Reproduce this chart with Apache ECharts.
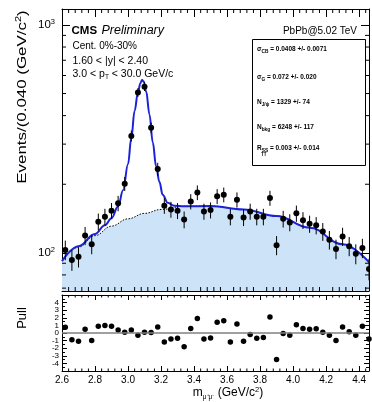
<!DOCTYPE html>
<html>
<head>
<meta charset="utf-8">
<script src="https://cdn.jsdelivr.net/npm/echarts@6.0.0/dist/echarts.min.js"></script>
<style>
html,body{margin:0;padding:0;background:#fff;}
#chart{width:372px;height:402px;}
</style>
</head>
<body>
<div id="chart"></div>
<script>
// ---------------- data ----------------
const binLow = 2.6;
const binWidth = 0.04;
const counts = [103, 93, 96, 119, 109, 137, 144, 153, 165, 201,
                326, 506, 536, 354, 233, 161, 155, 153, 140, 168,
                184, 152, 154, 177, 180, 144, 171, 143, 152, 144,
                144, 174, 108, 141, 136, 149, 139, 134, 132, 124,
                114, 104, 118, 107, 99, 105, 85];
const pulls = [0.75, -0.9, -1.1, 0.5, -1.0, 0.9, 1.0, 0.9, 0.4, 0.1,
               0.4, -0.3, 0.1, 0.05, 0.8, -1.2, -0.8, -0.7, -1.8, 0.6,
               1.9, -0.8, -0.65, 1.4, 1.6, -1.2, 1.2, -1.1, -0.2, -0.7,
               -0.6, 2.1, -3.5, -0.05, -0.3, 1.1, 0.6, 0.5, 0.55, 0.1,
               -0.3, -1.0, 0.8, 0.15, -0.3, 0.9, -0.8];
const bgMass = [2.60, 2.70, 2.80, 2.90, 3.00, 3.10, 3.20, 3.34, 3.50,
                3.70, 3.90, 4.10, 4.30, 4.46];
const bgFit  = [92, 106, 119, 131, 141, 149, 155, 160, 160.5,
                155, 145, 129, 109, 91];
const totMass = [2.60, 2.70, 2.80, 2.86, 2.90, 2.94, 2.97, 3.00, 3.02, 3.04,
                 3.06, 3.075, 3.085, 3.095, 3.11, 3.13, 3.15, 3.17, 3.19, 3.21,
                 3.24, 3.28, 3.34, 3.50, 3.70, 3.90, 4.10, 4.30, 4.46];
const totFit  = [92, 107, 121, 132, 142, 160, 188, 245, 320, 420,
                 505, 555, 574, 565, 510, 405, 305, 240, 205, 180,
                 166, 161, 160, 160.5, 155, 145, 129, 109, 91];
const xTickLabels = ['2.6', '2.8', '3.0', '3.2', '3.4', '3.6', '3.8', '4.0', '4.2', '4.4'];
const logMinorTicks = [70, 80, 90, 200, 300, 400, 500, 600, 700, 800, 900];
const pullTickLabels = ['-4', '-3', '-2', '-1', '0', '1', '2', '3', '4'];

// ---------------- layout / style ----------------
const FF = "'Liberation Sans', Arial, Helvetica, sans-serif";
const xMin = 2.6, xMax = 4.46;
const yMin = 68, yMax = 1175;
const G0 = {left: 62, top: 9, width: 307, height: 282};
const G1 = {left: 62, top: 295, width: 307, height: 76};

const points = counts.map((c, i) => [binLow + binWidth * (i + 0.5), c, Math.sqrt(c)]);
const pullPts = pulls.map((p, i) => [binLow + binWidth * (i + 0.5), p]);
const xMinor = [];
for (let k = 1; binLow + k * binWidth < xMax - 1e-9; k++) {
  if (k % 5 !== 0) xMinor.push(+(binLow + k * binWidth).toFixed(3));
}

function xLabel(v) {
  const s = v.toFixed(1);
  return (Math.abs(v - parseFloat(s)) < 1e-6 && xTickLabels.indexOf(s) >= 0) ? s : '';
}
function logLabel(v) {
  const e = Math.log10(v);
  if (Math.abs(e - Math.round(e)) > 1e-6) return '';
  return '{b|10}{s|' + Math.round(e) + '}';
}
function pullLabel(v) {
  const s = String(Math.round(v));
  return (Math.abs(v - Math.round(v)) < 1e-6 && pullTickLabels.indexOf(s) >= 0) ? s : '';
}
const black = {color: '#000', width: 1};

function xMinorRender(len) {
  return function (params, api) {
    const cs = params.coordSys;
    const p = api.coord([api.value(0), api.value(1)]);
    return {type: 'group', children: [
      {type: 'line', shape: {x1: p[0], y1: cs.y + cs.height, x2: p[0], y2: cs.y + cs.height - len}, style: {stroke: '#000', lineWidth: 1}},
      {type: 'line', shape: {x1: p[0], y1: cs.y, x2: p[0], y2: cs.y + len}, style: {stroke: '#000', lineWidth: 1}}
    ]};
  };
}
function legendText(y, main, sub, rest) {
  return {type: 'text', x: 257, y: y, z: 11,
    style: {text: '{a|' + main + '}{b|' + sub + '}{a|' + rest + '}', verticalAlign: 'middle',
      rich: {a: {fontFamily: FF, fontWeight: 'bold', fontSize: 6.5, color: '#000', lineHeight: 10},
             b: {fontFamily: FF, fontWeight: 'bold', fontSize: 4.8, color: '#000', verticalAlign: 'bottom', lineHeight: 10}}}};
}

const chart = echarts.init(document.getElementById('chart'), null, {renderer: 'canvas'});

const option = {
  backgroundColor: '#fff',
  animation: false,
  grid: [
    Object.assign({outerBoundsMode: 'none', containLabel: false}, G0),
    Object.assign({outerBoundsMode: 'none', containLabel: false}, G1)
  ],
  xAxis: [
    {gridIndex: 0, type: 'value', min: xMin, max: xMax, interval: 0.2, position: 'bottom',
     axisLine: {show: true, onZero: false, lineStyle: black}, axisTick: {show: true, inside: true, length: 8, lineStyle: black},
     axisLabel: {show: false}, splitLine: {show: false}},
    {gridIndex: 0, type: 'value', min: xMin, max: xMax, interval: 0.2, position: 'top',
     axisLine: {show: true, onZero: false, lineStyle: black}, axisTick: {show: true, inside: true, length: 8, lineStyle: black},
     axisLabel: {show: false}, splitLine: {show: false}},
    {gridIndex: 1, type: 'value', min: xMin, max: xMax, interval: 0.2, position: 'bottom',
     axisLine: {show: true, onZero: false, lineStyle: black}, axisTick: {show: true, inside: true, length: 5, lineStyle: black},
     axisLabel: {show: true, formatter: xLabel, margin: 4, color: '#000', fontFamily: FF, fontSize: 10,
                 showMinLabel: true, showMaxLabel: true}, splitLine: {show: false}},
    {gridIndex: 1, type: 'value', min: xMin, max: xMax, interval: 0.2, position: 'top',
     axisLine: {show: true, onZero: false, lineStyle: black}, axisTick: {show: true, inside: true, length: 5, lineStyle: black},
     axisLabel: {show: false}, splitLine: {show: false}}
  ],
  yAxis: [
    {gridIndex: 0, type: 'log', logBase: 10, min: yMin, max: yMax, position: 'left',
     axisLine: {show: true, onZero: false, lineStyle: black}, axisTick: {show: true, inside: true, length: 8, lineStyle: black},
     axisLabel: {show: true, formatter: logLabel, margin: 7, color: '#000',
                 rich: {b: {fontFamily: FF, fontSize: 11.5, color: '#000', lineHeight: 14},
                        s: {fontFamily: FF, fontSize: 7.5, color: '#000', verticalAlign: 'top', lineHeight: 14}}},
     splitLine: {show: false}},
    {gridIndex: 0, type: 'log', logBase: 10, min: yMin, max: yMax, position: 'right',
     axisLine: {show: true, onZero: false, lineStyle: black}, axisTick: {show: true, inside: true, length: 8, lineStyle: black},
     axisLabel: {show: false}, splitLine: {show: false}},
    {gridIndex: 1, type: 'value', min: -5, max: 5, interval: 1, position: 'left',
     axisLine: {show: true, onZero: false, lineStyle: black}, axisTick: {show: true, inside: true, length: 5, lineStyle: black},
     minorTick: {show: true, splitNumber: 2, length: 3, lineStyle: black},
     axisLabel: {show: true, formatter: pullLabel, margin: 3, color: '#000', fontFamily: FF, fontSize: 8},
     splitLine: {show: false}},
    {gridIndex: 1, type: 'value', min: -5, max: 5, interval: 1, position: 'right',
     axisLine: {show: true, onZero: false, lineStyle: black}, axisTick: {show: true, inside: true, length: 5, lineStyle: black},
     minorTick: {show: true, splitNumber: 2, length: 3, lineStyle: black},
     axisLabel: {show: false}, splitLine: {show: false}}
  ],
  series: [
    {type: 'line', name: 'bkg', xAxisIndex: 0, yAxisIndex: 0, data: bgMass.map((x, i) => [x, bgFit[i]]),
     smooth: 0.4, smoothMonotone: 'x', symbol: 'none', silent: true, z: 1,
     lineStyle: {color: '#000', width: 1, type: [1.5, 1.5]},
     areaStyle: {color: '#cde3f7', opacity: 1, origin: 'start'}},
    {type: 'line', name: 'fit', xAxisIndex: 0, yAxisIndex: 0, data: totMass.map((x, i) => [x, totFit[i]]),
     smooth: 0.4, smoothMonotone: 'x', symbol: 'none', silent: true, z: 2,
     lineStyle: {color: '#1c22d8', width: 2}},
    {type: 'custom', name: 'data', xAxisIndex: 0, yAxisIndex: 0, data: points, clip: true, z: 3,
     encode: {x: 0, y: 1},
     renderItem: function (params, api) {
       const x = api.value(0), y = api.value(1), e = api.value(2);
       const p = api.coord([x, y]);
       const hi = api.coord([x, y + e]);
       const lo = api.coord([x, y - e]);
       return {type: 'group', children: [
         {type: 'line', shape: {x1: p[0], y1: hi[1], x2: p[0], y2: lo[1]}, style: {stroke: '#000', lineWidth: 1}},
         {type: 'circle', shape: {cx: p[0], cy: p[1], r: 3}, style: {fill: '#000'}}
       ]};
     }},
    {type: 'custom', name: 'logminor', xAxisIndex: 0, yAxisIndex: 0, silent: true, z: 4,
     data: logMinorTicks.map(v => [xMin, v]), encode: {x: 0, y: 1},
     renderItem: function (params, api) {
       const cs = params.coordSys;
       const p = api.coord([xMin, api.value(1)]);
       return {type: 'group', children: [
         {type: 'line', shape: {x1: cs.x, y1: p[1], x2: cs.x + 4, y2: p[1]}, style: {stroke: '#000', lineWidth: 1}},
         {type: 'line', shape: {x1: cs.x + cs.width - 4, y1: p[1], x2: cs.x + cs.width, y2: p[1]}, style: {stroke: '#000', lineWidth: 1}}
       ]};
     }},
    {type: 'custom', name: 'xminor0', xAxisIndex: 0, yAxisIndex: 0, silent: true, z: 4,
     data: xMinor.map(v => [v, 100]), encode: {x: 0, y: 1}, renderItem: xMinorRender(4)},
    {type: 'scatter', name: 'pull', xAxisIndex: 2, yAxisIndex: 2, data: pullPts, symbol: 'circle', symbolSize: 5.5,
     itemStyle: {color: '#000', opacity: 1}, silent: true, z: 3, clip: true,
     markLine: {symbol: 'none', silent: true, label: {show: false}, animation: false,
                lineStyle: {color: '#808080', width: 1.5, type: 'solid', opacity: 1}, data: [{yAxis: 0}]}},
    {type: 'custom', name: 'xminor1', xAxisIndex: 2, yAxisIndex: 2, silent: true, z: 4,
     data: xMinor.map(v => [v, 0]), encode: {x: 0, y: 1}, renderItem: xMinorRender(2.5)}
  ],
  graphic: [
    {type: 'text', x: 22, y: 97, rotation: Math.PI / 2, scaleX: 1.3,
     style: {text: '{a|Events/(0.040 (GeV/c}{s|2}{a|)}', align: 'center', verticalAlign: 'middle',
             rich: {a: {fontFamily: FF, fontSize: 13, color: '#000', lineHeight: 16},
                    s: {fontFamily: FF, fontSize: 8.5, color: '#000', verticalAlign: 'top', lineHeight: 16}}}},
    {type: 'text', x: 22, y: 318, rotation: Math.PI / 2,
     style: {text: 'Pull', align: 'center', verticalAlign: 'middle', fontFamily: FF, fontSize: 13, fill: '#000'}},
    {type: 'text', x: 228, y: 393,
     style: {text: '{a|m}{b|μ⁺μ⁻}{a| (GeV/c}{s|2}{a|)}', align: 'center', verticalAlign: 'middle',
             rich: {a: {fontFamily: FF, fontSize: 12, color: '#000', lineHeight: 15},
                    b: {fontFamily: FF, fontSize: 6.5, color: '#000', verticalAlign: 'bottom', lineHeight: 15},
                    s: {fontFamily: FF, fontSize: 7.5, color: '#000', verticalAlign: 'top', lineHeight: 15}}}},
    {type: 'text', x: 71.5, y: 31,
     style: {text: 'CMS', verticalAlign: 'middle', fontFamily: FF, fontWeight: 'bold', fontSize: 11.5, fill: '#000'}},
    {type: 'text', x: 101.5, y: 31,
     style: {text: 'Preliminary', verticalAlign: 'middle', fontFamily: FF, fontStyle: 'italic', fontSize: 12.5, fill: '#000'}},
    {type: 'text', x: 357, y: 31,
     style: {text: 'PbPb@5.02 TeV', align: 'right', verticalAlign: 'middle', fontFamily: FF, fontSize: 10, fill: '#000'}},
    {type: 'text', x: 72.5, y: 46,
     style: {text: 'Cent. 0%-30%', verticalAlign: 'middle', fontFamily: FF, fontSize: 10, fill: '#000'}},
    {type: 'text', x: 72.5, y: 60.7,
     style: {text: '1.60 < |y| < 2.40', verticalAlign: 'middle', fontFamily: FF, fontSize: 10.5, fill: '#000'}},
    {type: 'text', x: 72.5, y: 74,
     style: {text: '{a|3.0 < p}{b|T}{a| < 30.0 GeV/c}', verticalAlign: 'middle',
             rich: {a: {fontFamily: FF, fontSize: 10.5, color: '#000', lineHeight: 14},
                    b: {fontFamily: FF, fontSize: 6.5, color: '#000', verticalAlign: 'bottom', lineHeight: 14}}}},
    {type: 'rect', shape: {x: 252.5, y: 39.5, width: 113, height: 126},
     style: {fill: '#fff', stroke: '#000', lineWidth: 1}, z: 10},
    legendText(49, 'σ', 'CB', ' = 0.0408 +/- 0.0071'),
    legendText(77, 'σ', 'G', ' = 0.072 +/- 0.020'),
    legendText(102, 'N', 'J/ψ', ' = 1329 +/- 74'),
    legendText(127, 'N', 'bkg', ' = 6248 +/- 117'),
    legendText(148, 'R', 'SS', ' = 0.003 +/- 0.014'),
    {type: 'text', x: 261, y: 155, z: 11,
     style: {text: 'TT', verticalAlign: 'middle', fontFamily: FF, fontWeight: 'bold', fontSize: 4.5, fill: '#000'}}
  ]
};
chart.setOption(option);
</script>
</body>
</html>
